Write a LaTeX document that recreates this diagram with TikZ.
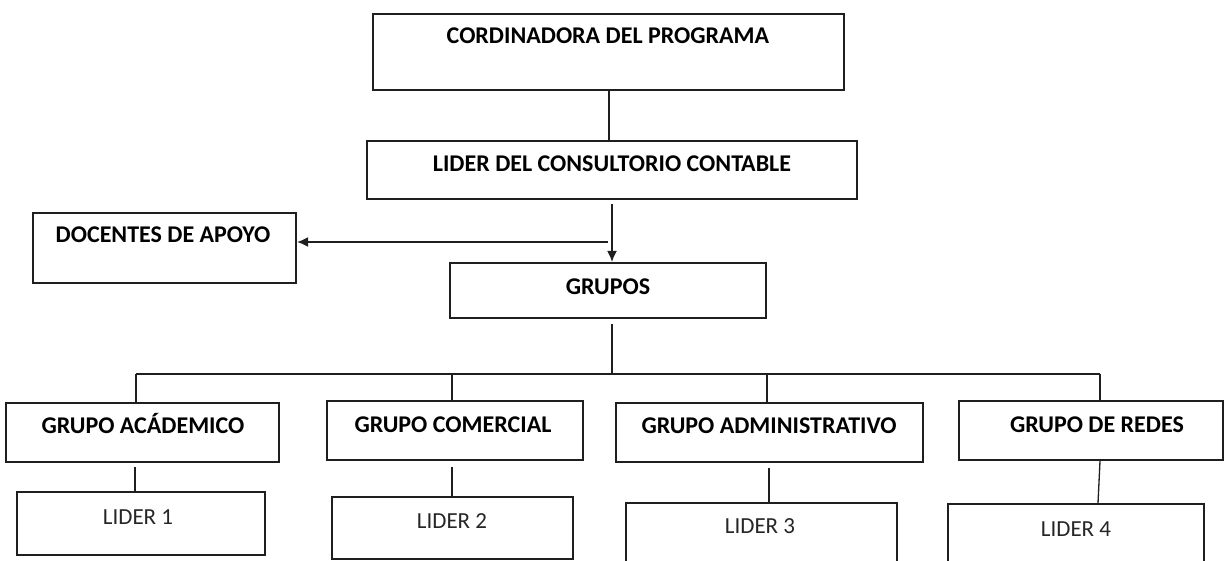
\documentclass[tikz,border=0pt]{standalone}
\usepackage{fontspec}
\setmainfont{Carlito}
\usetikzlibrary{arrows.meta}
\begin{document}
\begin{tikzpicture}[x=1pt,y=-1pt,
  box/.style={draw=black!88,line width=2pt,rectangle,inner sep=0pt},
  ttl/.style={anchor=base,inner sep=0pt,font=\fontsize{24}{27}\selectfont\bfseries,text=black},
  lbl/.style={anchor=base,inner sep=0pt,font=\fontsize{23}{26}\selectfont,text=black!85},
  conn/.style={draw=black!88,line width=1.8pt},
  arr/.style={conn,-{Latex[length=11pt,width=10pt]}}]
\clip (0,0) rectangle (1225,561);
\fill[white] (0,0) rectangle (1225,561);
% boxes
\node[box,minimum width=471pt,minimum height=76pt] (top) at (608.5,52) {};
\node[box,minimum width=490pt,minimum height=58pt] (lid) at (612,170) {};
\node[box,minimum width=263pt,minimum height=70pt] (doc) at (164.5,248) {};
\node[box,minimum width=316pt,minimum height=55pt] (grp) at (608,290.5) {};
\node[box,minimum width=273pt,minimum height=59pt] (acad) at (142.5,432.5) {};
\node[box,minimum width=256pt,minimum height=59pt] (com) at (455,430.5) {};
\node[box,minimum width=307pt,minimum height=59pt] (adm) at (769.5,432.5) {};
\node[box,minimum width=264pt,minimum height=59pt] (red) at (1091,430.5) {};
\node[box,minimum width=248pt,minimum height=63pt] (l1) at (141,523.5) {};
\node[box,minimum width=241pt,minimum height=62pt] (l2) at (452.5,528) {};
\node[box,minimum width=271pt,minimum height=62pt] (l3) at (761.5,534) {};
\node[box,minimum width=256pt,minimum height=62pt] (l4) at (1076,535) {};
% texts
\node[ttl] (ttop) at (608,44) {CORDINADORA DEL PROGRAMA};
\node[ttl] (tlid) at (612,172) {LIDER DEL CONSULTORIO CONTABLE};
\node[ttl] (tdoc) at (163,243) {DOCENTES DE APOYO};
\node[ttl] (tgrp) at (608,294) {GRUPOS};
\node[ttl] (tacad) at (143,433) {GRUPO ACÁDEMICO};
\node[ttl] (tcom) at (453,432) {GRUPO COMERCIAL};
\node[ttl] (tadm) at (769,433) {GRUPO ADMINISTRATIVO};
\node[ttl] (tred) at (1097,432) {GRUPO DE REDES};
\node[lbl] (tl1) at (138,524) {LIDER 1};
\node[lbl] (tl2) at (452,528) {LIDER 2};
\node[lbl] (tl3) at (760,533) {LIDER 3};
\node[lbl] (tl4) at (1076,536) {LIDER 4};
% connector points
\coordinate (j) at (608,242);
\coordinate (bc) at (612,374);
\coordinate (b1) at (136,374);
\coordinate (b2) at (452,374);
\coordinate (b3) at (767,374);
\coordinate (b4) at (1100,374);
% connectors
\draw[conn] (top.south -| 609,0) -- (lid.north -| 609,0);
\draw[arr] ([yshift=-4pt]lid.south) -- (lid.south |- grp.north);
\draw[arr] (j) -- (j -| doc.east);
\draw[conn] ([yshift=-5pt]grp.south -| bc) -- (bc);
\draw[conn] (b1) -- (b4);
\draw[conn] (b1) -- (b1 |- acad.north);
\draw[conn] (b2) -- (b2 |- com.north);
\draw[conn] (b3) -- (b3 |- adm.north);
\draw[conn] (b4) -- (b4 |- red.north);
\draw[conn] ([yshift=-4pt]acad.south -| 135,0) -- (l1.north -| 135,0);
\draw[conn] ([yshift=-6pt]com.south -| b2) -- (l2.north -| b2);
\draw[conn] ([yshift=-5pt]adm.south -| 769,0) -- (l3.north -| 769,0);
\draw[conn,line width=1.3pt] (red.south -| b4) -- (l4.north -| 1098,0);
\end{tikzpicture}
\end{document}
